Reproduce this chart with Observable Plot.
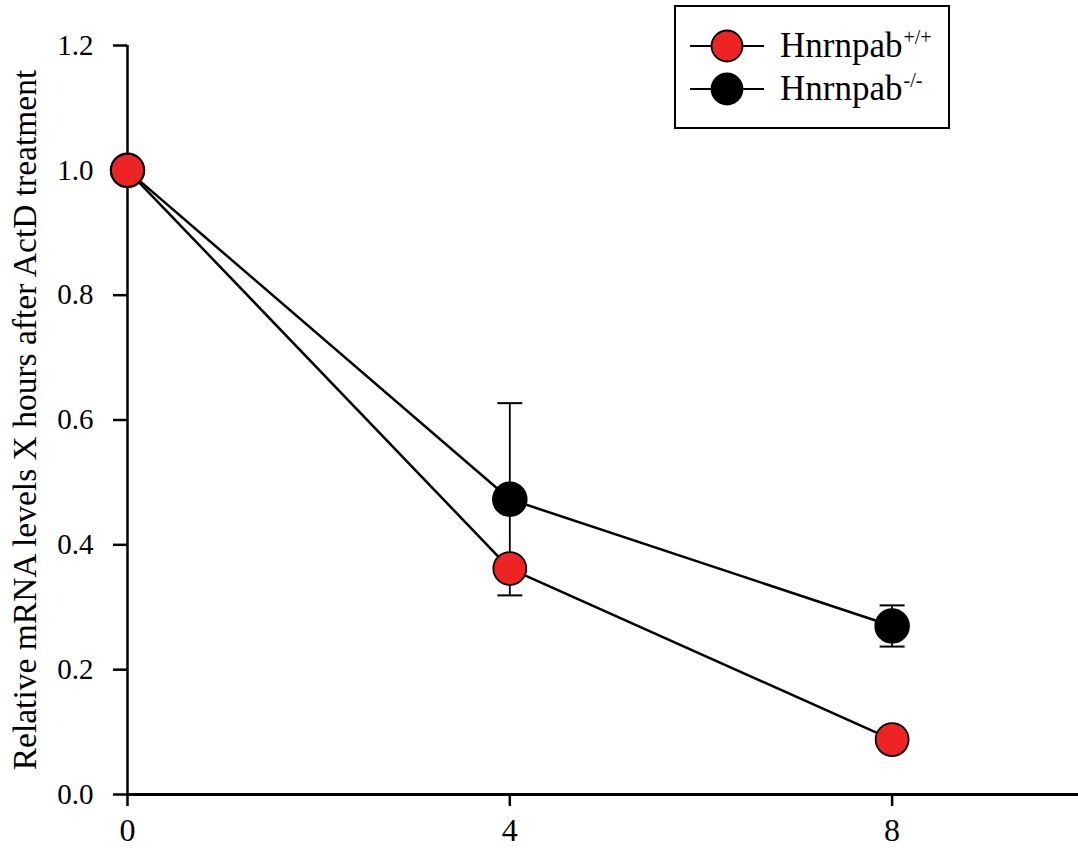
<!DOCTYPE html>
<html>
<head>
<meta charset="utf-8">
<script src="https://cdn.jsdelivr.net/npm/d3@7"></script>
<script src="https://cdn.jsdelivr.net/npm/@observablehq/plot@0.6"></script>
<style>
  html, body { margin: 0; padding: 0; background: #fff; }
  #wrap { position: relative; width: 1078px; height: 848px; font-family: "Liberation Serif", "Times New Roman", serif; }
  #legend { position: absolute; left: 674px; top: 5px; width: 276px; height: 124px; border: 2px solid #000; box-sizing: border-box; background: #fff; }
  .row { position: absolute; left: 14px; height: 40px; width: 250px; }
  .row svg { position: absolute; left: 0; top: 0; }
  .row span { position: absolute; left: 90px; top: 0; font-size: 35px; color: #000; line-height: 40px; white-space: nowrap; }
  .row sup { font-size: 20px; vertical-align: 0; position: relative; top: -13px; margin-left: 1px; }
</style>
</head>
<body>
<div id="wrap"></div>
<script>
const hours = [0, 4, 8];
const wildType = [1.0, 0.362, 0.088];
const knockout = [1.0, 0.473, 0.270];
const knockoutErr = [0, 0.154, 0.033];
const seriesBase = ["Hnrnpab", "Hnrnpab"];
const seriesSup = ["+/+", "-/-"];
const seriesColors = ["#ee2424", "#000000"];
const yTicks = [0, 0.2, 0.4, 0.6, 0.8, 1.0, 1.2];
const xTicks = [0, 4, 8];
const yLabel = "Relative mRNA levels X hours after ActD treatment";

const wt = hours.map((h, i) => ({h, v: wildType[i]}));
const ko = hours.map((h, i) => ({h, v: knockout[i], e: knockoutErr[i]}));
const koErr = ko.filter(d => d.e > 0);

const font = '"Liberation Serif", "Times New Roman", serif';

const capSymbol = {
  draw(ctx) { ctx.moveTo(-12.5, 0); ctx.lineTo(12.5, 0); }
};

const chart = Plot.plot({
  width: 1078,
  height: 848,
  marginLeft: 127,
  marginRight: 0,
  marginTop: 45,
  marginBottom: 54,
  style: {fontFamily: font, color: "#000", background: "#fff", overflow: "visible"},
  x: {type: "linear", domain: [0, 9.95]},
  y: {type: "linear", domain: [0, 1.2]},
  marks: [
    Plot.axisY({ticks: yTicks, tickFormat: d3.format(".1f"), tickSize: 14, tickPadding: 20, strokeWidth: 2.5,
      label: yLabel, labelAnchor: "center", labelArrow: "none", labelOffset: 115}),
    Plot.axisX({ticks: xTicks, tickFormat: d3.format("d"), tickSize: 12, tickPadding: 12, strokeWidth: 2.5, label: null}),
    Plot.ruleX([0], {y1: 0, y2: 1.2, strokeWidth: 2.5}),
    Plot.ruleY([0], {x1: 0, x2: 9.95, strokeWidth: 3}),
    Plot.line(ko, {x: "h", y: "v", stroke: "#000", strokeWidth: 2.5}),
    Plot.line(wt, {x: "h", y: "v", stroke: "#000", strokeWidth: 2.5}),
    Plot.ruleX(koErr, {x: "h", y1: d => d.v - d.e, y2: d => d.v + d.e, stroke: "#000", strokeWidth: 1.8}),
    Plot.dot(koErr, {x: "h", y: d => d.v + d.e, symbol: capSymbol, stroke: "#000", strokeWidth: 2, fill: "none"}),
    Plot.dot(koErr, {x: "h", y: d => d.v - d.e, symbol: capSymbol, stroke: "#000", strokeWidth: 2, fill: "none"}),
    Plot.dot(ko, {x: "h", y: "v", r: 17, fill: seriesColors[1], stroke: "#000", strokeWidth: 1.5}),
    Plot.dot(wt, {x: "h", y: "v", r: 16.5, fill: seriesColors[0], stroke: "#000", strokeWidth: 1.8})
  ]
});

const wrap = document.getElementById("wrap");
wrap.appendChild(chart);

const svg = d3.select(chart);
svg.selectAll('g[aria-label="y-axis tick label"] text').attr("font-size", 29).attr("fill", "#000");
svg.selectAll('g[aria-label="x-axis tick label"] text').attr("font-size", 32).attr("fill", "#000");
svg.selectAll('g[aria-label="y-axis label"] text').attr("font-size", 33.5).attr("fill", "#000");

// legend
const legend = document.createElement("div");
legend.id = "legend";
const rowTops = [19, 62];
seriesColors.forEach((c, i) => {
  const row = document.createElement("div");
  row.className = "row";
  row.style.top = rowTops[i] + "px";
  row.innerHTML = `<svg width="74" height="40"><line x1="0" x2="74" y1="20" y2="20" stroke="#000" stroke-width="2"/><circle cx="37" cy="20" r="15.5" fill="${c}" stroke="#000" stroke-width="1.8"/></svg><span>${seriesBase[i]}<sup>${seriesSup[i]}</sup></span>`;
  legend.appendChild(row);
});
wrap.appendChild(legend);
</script>
</body>
</html>
